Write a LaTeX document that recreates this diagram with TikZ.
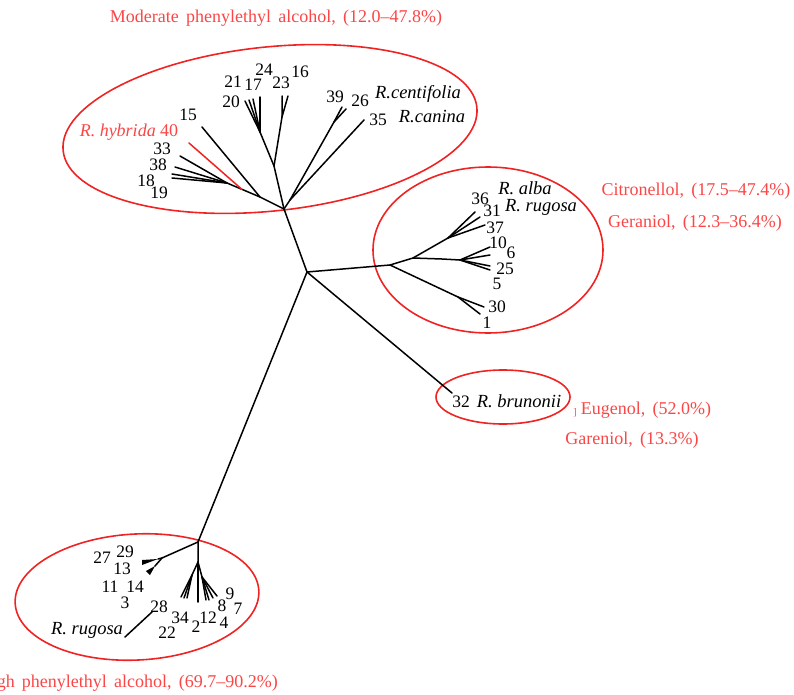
\documentclass[tikz,border=0pt]{standalone}
\usepackage{fontspec}
\setmainfont{Liberation Serif}
\usetikzlibrary{calc}
\definecolor{lbl}{RGB}{250,70,70}
\definecolor{ell}{RGB}{240,35,35}
\begin{document}
\begin{tikzpicture}[x=1pt,y=-1pt,
  br/.style={line width=1.5pt, black, line cap=round},
  brred/.style={line width=1.5pt, ell, line cap=round},
  grp/.style={draw=ell, line width=1.6pt},
  num/.style={inner sep=0pt, font=\fontsize{17.5}{19}\selectfont},
  spc/.style={inner sep=0pt, font=\fontsize{18.5}{20}\selectfont\itshape},
  note/.style={inner sep=0pt, text=lbl, font={\fontsize{18}{20}\selectfont\spaceskip=0.4em\relax}},
]
\useasboundingbox (0,0) rectangle (794,695);

% ---------- group ellipses ----------
\draw[grp, rotate around={6:(270,129)}] (270,129) ellipse [x radius=208, y radius=82];
\draw[grp] (488,250) ellipse [x radius=115, y radius=83];
\draw[grp] (503,397) ellipse [x radius=67, y radius=27];
\draw[grp, rotate around={3:(137,597)}] (137,597) ellipse [x radius=122, y radius=63];

% ---------- tree coordinates ----------
\coordinate (C0) at (307,272);
\coordinate (T0) at (284,209);
\coordinate (R0) at (390,265);
\coordinate (Bru) at (452,393);
\coordinate (B0) at (198,542);
% top cluster
\coordinate (TA) at (274,166);
\coordinate (T23) at (282,117);
\coordinate (t23a) at (282,96);
\coordinate (t23b) at (288,96);
\coordinate (T20) at (260,132);
\coordinate (t20a) at (245,101);
\coordinate (t20b) at (249,100);
\coordinate (t20c) at (253,99);
\coordinate (t20d) at (260,97);
\coordinate (TL1) at (260,197);
\coordinate (t15) at (202,127);
\coordinate (TL2) at (227,183);
\coordinate (t40) at (189,143);
\coordinate (r40) at ($(TL2)!0.45!(TL1)$);
\coordinate (t33) at (180,156);
\coordinate (t38) at (175,167);
\coordinate (t18) at (172,174);
\coordinate (t19) at (172,178);
\coordinate (TR) at (290,200);
\coordinate (TR2) at (334,122);
\coordinate (t39) at (342,107);
\coordinate (t26) at (346,109);
\coordinate (t35) at (364,120);
% right cluster
\coordinate (R1) at (413,258);
\coordinate (RU) at (448,238);
\coordinate (t36) at (475,212);
\coordinate (t31) at (480,217);
\coordinate (t37) at (485,225);
\coordinate (RM) at (442,259);
\coordinate (RM2) at (460,260);
\coordinate (t10) at (490,247);
\coordinate (t6) at (490,255);
\coordinate (t25) at (490,266);
\coordinate (t5) at (490,270);
\coordinate (RL) at (458,297);
\coordinate (t30) at (484,307);
\coordinate (t1) at (480,314);
% bottom cluster
\coordinate (BL) at (162,558);
\coordinate (BW1) at (158,559);
\coordinate (BW2) at (155,566);
\coordinate (B1) at (198,562);
\coordinate (BLs) at (192,575);
\coordinate (b34a) at (181,597);
\coordinate (b34b) at (184,598);
\coordinate (b34c) at (187,598);
\coordinate (b2) at (198,602);
\coordinate (BRs) at (202,577);
\coordinate (b12) at (206,600);
\coordinate (b4) at (209,600);
\coordinate (b8) at (213,598);
\coordinate (b9) at (217,596);
\coordinate (g28a) at (125,637);
\coordinate (g28b) at (152,612);

% ---------- branches ----------
\draw[br] (C0) -- (T0);
\draw[br] (C0) -- (R0);
\draw[br] (C0) -- (Bru);
\draw[br] (C0) -- (B0);
% top
\draw[br] (T0) -- (TA) -- (T23) -- (t23a);
\draw[br] (T23) -- (t23b);
\draw[br] (TA) -- (T20) -- (t20a);
\draw[br] (T20) -- (t20b);
\draw[br] (T20) -- (t20c);
\draw[br] (T20) -- (t20d);
\draw[br] (T0) -- (TL1) -- (t15);
\draw[br] (TL1) -- (TL2) -- (t33);
\draw[br] (TL2) -- (t38);
\draw[br] (TL2) -- (t18);
\draw[br] (TL2) -- (t19);
\draw[brred] (r40) -- (t40);
\draw[br] (T0) -- (TR) -- (TR2) -- (t39);
\draw[br] (TR2) -- (t26);
\draw[br] (TR) -- (t35);
% right
\draw[br] (R0) -- (R1) -- (RU) -- (t36);
\draw[br] (RU) -- (t31);
\draw[br] (RU) -- (t37);
\draw[br] (R1) -- (RM) -- (RM2) -- (t10);
\draw[br] (RM2) -- (t6);
\draw[br] (RM2) -- (t25);
\draw[br] (RM2) -- (t5);
\draw[br] (R0) -- (RL) -- (t30);
\draw[br] (RL) -- (t1);
% bottom
\draw[br] (B0) -- (BL) -- (BW1);
\fill (BW1) -- (142,560) -- (142,565) -- cycle;
\draw[br] (BL) -- (BW2);
\fill (BW2) -- (146,571) -- (150,575) -- cycle;
\draw[br] (B0) -- (B1) -- (BLs) -- (b34a);
\draw[br] (BLs) -- (b34b);
\draw[br] (BLs) -- (b34c);
\draw[br] (B1) -- (b2);
\draw[br] (B1) -- (BRs) -- (b12);
\draw[br] (BRs) -- (b4);
\draw[br] (BRs) -- (b8);
\draw[br] (BRs) -- (b9);
\draw[br] (g28a) -- (g28b);

% ---------- labels: top cluster ----------
\node[num] (n21) at (233,82) {21};
\node[num] (n17) at (253,85) {17};
\node[num] (n24) at (264,70) {24};
\node[num] (n23) at (281,83) {23};
\node[num] (n16) at (300,72) {16};
\node[num] (n20) at (231,102) {20};
\node[num] (n39) at (335,97) {39};
\node[num] (n26) at (360,101) {26};
\node[spc] (cent) at (418,94) {R.centifolia};
\node[num] (n35) at (378,120) {35};
\node[spc] (can) at (432,117) {R.canina};
\node[num] (n15) at (188,115) {15};
\node[inner sep=0pt, text=lbl, font=\fontsize{18}{20}\selectfont] (hyb) at (129,132) {\textit{R. hybrida} 40};
\node[num] (n33) at (162,149) {33};
\node[num] (n38) at (158,165) {38};
\node[num] (n18) at (146,181) {18};
\node[num] (n19) at (159,193) {19};

% ---------- labels: right cluster ----------
\node[num] (n36) at (480,199) {36};
\node[num] (n31) at (492,211) {31};
\node[spc] (alba) at (525,188) {R. alba};
\node[spc] (rug1) at (541,207) {R. rugosa};
\node[num] (n37) at (495,228) {37};
\node[num] (n10) at (498,243) {10};
\node[num] (n6) at (511,253) {6};
\node[num] (n25) at (505,269) {25};
\node[num] (n5) at (497,284) {5};
\node[num] (n30) at (497,307) {30};
\node[num] (n1) at (487,323) {1};

% ---------- labels: brunonii ----------
\node[num] (n32) at (461,402) {32};
\node[spc] (brun) at (519,401) {R. brunonii};

% ---------- labels: bottom cluster ----------
\node[num] (n27) at (102,558) {27};
\node[num] (n29) at (125,552) {29};
\node[num] (n13) at (122,569) {13};
\node[num] (n11) at (110,587) {11};
\node[num] (n14) at (135,587) {14};
\node[num] (n3) at (125,603) {3};
\node[num] (n28) at (159,607) {28};
\node[spc] (rug2) at (87,630) {R. rugosa};
\node[num] (n34) at (180,618) {34};
\node[num] (n22) at (167,633) {22};
\node[num] (n2) at (196,627) {2};
\node[num] (n12) at (208,618) {12};
\node[num] (n8) at (222,606) {8};
\node[num] (n9) at (230,594) {9};
\node[num] (n7) at (238,609) {7};
\node[num] (n4) at (224,623) {4};

% ---------- group notes ----------
\node[note] (modr) at (276,18) {Moderate phenylethyl alcohol, (12.0–47.8\%)};
\node[note, anchor=east] (high) at (278,683) {High phenylethyl alcohol, (69.7–90.2\%)};
\node[note] (citr) at (696,191) {Citronellol, (17.5–47.4\%)};
\node[note] (gera) at (695,223) {Geraniol, (12.3–36.4\%)};
\node[inner sep=0pt, text=lbl, font=\fontsize{10}{12}\selectfont] (brk) at (575,413) {]};
\node[note] (euge) at (646,410) {Eugenol, (52.0\%)};
\node[note] (gare) at (632,440) {Gareniol, (13.3\%)};
\end{tikzpicture}
\end{document}
